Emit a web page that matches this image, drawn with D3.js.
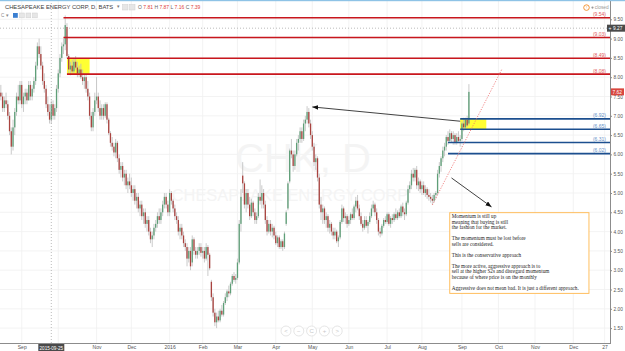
<!DOCTYPE html>
<html>
<head>
<meta charset="utf-8">
<script src="https://cdn.jsdelivr.net/npm/d3@7"></script>
<style>
  body { margin: 0; background: #fff; }
  svg { display: block; font-family: "Liberation Sans", Arial, sans-serif; }
</style>
</head>
<body>
<svg width="625" height="351"></svg>
<script>
// ---- trading calendar (weekdays, minus exchange holidays that fall in the data) ----
const firstDay = '2015-08-13';
const lastDay = '2016-12-30';
const holidays = ['2015-09-07','2015-11-26','2015-12-25','2016-01-01','2016-01-18',
                  '2016-02-15','2016-03-25','2016-05-30','2016-07-04','2016-09-05'];

// ---- daily candles [open, high, low, close], one array per month ----
const aug15 = [[7.5,7.7,7.3,7.6],[7.6,7.8,7.4,7.5],[7.5,7.6,7.1,7.2],[7.2,7.5,7.1,7.4],[7.4,7.6,7.2,7.3],
  [7.3,7.4,6.9,7.0],[7.0,7.1,6.5,6.6],[6.6,6.7,6.0,6.2],[6.2,6.9,6.1,6.7],[6.7,7.2,6.5,7.1],
  [7.1,7.6,7.0,7.5],[7.5,7.8,7.3,7.4],[7.4,7.9,7.3,7.8]];
const sep15 = [[7.8,7.9,7.2,7.3],[7.3,7.6,7.1,7.5],[7.5,7.7,7.3,7.6],[7.6,7.7,7.3,7.4],[7.4,7.9,7.4,7.8],
  [7.8,7.9,7.4,7.5],[7.5,7.8,7.4,7.7],[7.7,8.0,7.6,7.9],[7.9,8.4,7.8,8.3],[8.3,8.9,8.2,8.8],
  [8.8,9.0,8.5,8.6],[8.6,8.8,8.2,8.3],[8.3,8.4,7.8,7.9],[7.9,8.1,7.6,7.7],[7.7,7.8,7.2,7.3],
  [7.3,7.5,7.0,7.1],[7.1,7.3,6.8,6.9],[6.9,7.4,6.8,7.3],[7.3,7.4,6.9,7.0],[7.0,7.3,6.9,7.2],
  [7.2,7.8,7.1,7.7]];
const oct15 = [[7.7,8.2,7.6,8.1],[8.1,8.6,8.0,8.5],[8.5,8.9,8.4,8.8],[8.8,9.0,8.6,8.85],[8.85,9.6,8.7,9.35],
  [9.3,9.4,8.5,8.55],[8.55,8.6,8.1,8.2],[8.2,8.4,8.05,8.3],[8.3,8.45,8.1,8.15],[8.15,8.5,8.1,8.4],
  [8.4,8.55,8.2,8.25],[8.25,8.4,8.0,8.1],[8.1,8.3,8.0,8.2],[8.2,8.35,7.95,8.0],[8.0,8.2,7.8,7.9],
  [7.9,8.1,7.7,8.0],[8.0,8.1,7.6,7.7],[7.7,7.9,7.4,7.5],[7.5,7.6,6.9,7.0],[7.0,7.1,6.6,6.7],
  [6.7,7.2,6.6,7.1],[7.1,7.6,7.0,7.4]];
const nov15 = [[7.4,8.0,7.3,7.5],[7.5,7.6,7.1,7.2],[7.2,7.4,6.9,7.0],[7.0,7.3,6.9,7.2],[7.2,7.3,6.9,7.0],
  [7.0,7.35,6.95,7.3],[7.3,7.35,6.8,6.9],[6.9,6.95,6.5,6.55],[6.55,6.6,6.2,6.3],[6.3,6.45,6.1,6.2],
  [6.2,6.3,5.95,6.05],[6.05,6.4,5.9,6.3],[6.3,6.35,5.8,5.9],[5.9,6.0,5.5,5.6],[5.6,5.8,5.4,5.7],
  [5.7,5.8,5.3,5.4],[5.4,5.6,5.2,5.5],[5.5,5.6,5.1,5.2],[5.2,5.4,5.0,5.3],[5.3,5.5,5.1,5.2]];
const dec15 = [[5.2,5.4,4.9,5.0],[5.0,5.2,4.8,5.1],[5.1,5.2,4.7,4.8],[4.8,5.0,4.6,4.9],[4.9,5.0,4.5,4.6],
  [4.6,4.8,4.4,4.7],[4.7,4.8,4.3,4.4],[4.4,4.6,4.2,4.5],[4.5,4.6,4.1,4.2],[4.2,4.4,4.0,4.3],
  [4.3,4.4,3.9,4.0],[4.0,4.1,3.7,3.8],[3.8,4.0,3.6,3.9],[3.9,4.2,3.8,4.1],[4.1,4.3,4.0,4.2],
  [4.2,4.5,4.1,4.4],[4.4,4.6,4.2,4.3],[4.3,4.6,4.2,4.5],[4.5,4.8,4.4,4.7],[4.7,5.0,4.6,4.9],
  [4.9,5.0,4.6,4.7],[4.7,4.8,4.4,4.5]];
const jan16 = [[4.5,5.1,4.4,5.0],[5.0,5.05,4.7,4.8],[4.8,4.85,4.5,4.6],[4.6,4.7,4.3,4.4],[4.4,4.5,4.2,4.3],
  [4.3,4.4,3.9,4.0],[4.0,4.2,3.8,4.1],[4.1,4.2,3.8,3.9],[3.9,4.0,3.6,3.7],[3.7,3.8,3.5,3.6],
  [3.6,3.7,3.1,3.3],[3.3,3.6,3.2,3.5],[3.5,3.6,3.0,3.1],[3.2,3.9,3.1,3.8],[3.8,3.85,3.4,3.5],
  [3.5,3.6,3.3,3.4],[3.4,3.6,3.3,3.5],[3.5,3.7,3.4,3.6],[3.6,3.7,3.35,3.45]];
const feb16 = [[3.45,3.6,3.3,3.5],[3.5,3.6,3.2,3.3],[3.3,3.7,3.25,3.6],[3.6,3.65,2.85,3.4],[3.4,3.45,3.0,3.05],
  [2.7,2.75,2.2,2.3],[2.3,2.4,1.8,1.9],[1.9,2.0,1.55,1.65],[1.65,1.9,1.5,1.8],[1.8,1.95,1.65,1.7],
  [1.7,2.0,1.65,1.95],[1.95,2.1,1.8,1.85],[1.85,2.2,1.8,2.15],[2.15,2.4,2.1,2.3],[2.3,2.5,2.2,2.45],
  [2.45,2.6,2.3,2.4],[2.4,2.7,2.35,2.65],[2.65,2.9,2.6,2.85],[2.85,2.95,2.7,2.75],[2.75,2.9,2.65,2.8]];
const mar16 = [[2.8,3.3,2.75,3.2],[3.2,4.3,3.15,4.2],[4.2,5.1,4.0,4.9],[5.45,5.8,5.0,5.25],[5.25,5.3,4.6,4.7],
  [4.7,5.1,4.5,5.0],[5.0,5.1,4.6,4.7],[4.7,4.9,4.3,4.4],[4.4,4.85,4.35,4.75],[4.75,4.8,4.4,4.5],
  [4.5,4.6,4.2,4.3],[4.3,4.5,4.2,4.4],[4.4,5.0,4.35,4.9],[4.9,5.35,4.7,4.8],[4.8,5.2,4.6,5.0],
  [5.0,5.1,4.6,4.7],[4.7,4.8,4.2,4.3],[4.3,4.4,3.9,4.0],[4.0,4.3,3.95,4.2],[4.2,4.3,3.9,4.0],
  [4.0,4.2,3.85,4.1],[4.1,4.15,3.8,3.9]];
const apr16 = [[3.9,4.0,3.65,3.7],[3.7,3.9,3.6,3.85],[3.85,3.9,3.55,3.6],[3.6,3.8,3.55,3.75],[3.75,3.8,3.5,3.6],
  [3.6,4.0,3.55,3.95],[4.2,4.55,4.15,4.5],[4.6,5.3,4.55,5.25],[5.3,6.15,5.25,6.1],[6.1,6.4,5.9,6.0],
  [6.0,6.1,5.55,5.7],[5.7,6.1,5.6,6.0],[6.0,6.4,5.95,6.3],[6.3,6.5,6.1,6.4],[6.4,6.7,6.3,6.6],
  [6.6,6.7,6.3,6.4],[6.4,6.9,6.35,6.8],[6.8,7.0,6.6,6.9],[6.9,7.25,6.8,7.1],[7.1,7.2,6.7,6.8],
  [6.8,6.9,6.4,6.5]];
const may16 = [[6.5,6.6,6.1,6.2],[6.2,6.3,5.7,5.8],[5.8,6.0,5.6,5.9],[5.9,5.95,5.3,5.4],[5.4,5.5,4.6,4.7],
  [4.7,4.9,4.3,4.5],[4.5,4.7,4.2,4.6],[4.6,4.65,4.2,4.3],[4.3,4.5,4.1,4.4],[4.4,4.45,4.0,4.1],
  [4.1,4.3,3.95,4.2],[4.2,4.25,3.9,4.0],[4.0,4.1,3.8,3.9],[3.9,4.1,3.8,4.0],[4.0,4.05,3.7,3.75],
  [3.75,3.9,3.6,3.85],[3.85,4.3,3.8,4.25],[4.25,4.7,4.2,4.6],[4.6,4.65,4.25,4.35],[4.35,4.5,4.2,4.4],
  [4.4,4.45,4.1,4.2]];
const jun16 = [[4.2,4.4,4.15,4.3],[4.3,4.5,4.2,4.45],[4.45,4.6,4.3,4.35],[4.35,4.7,4.3,4.65],[4.65,4.9,4.5,4.8],
  [4.8,4.95,4.55,4.6],[4.6,4.7,4.3,4.4],[4.4,4.5,4.15,4.2],[4.2,4.3,4.0,4.1],[4.1,4.4,4.05,4.3],
  [4.3,4.4,4.1,4.15],[4.15,4.3,3.95,4.25],[4.25,4.5,4.2,4.4],[4.4,4.7,4.35,4.6],[4.6,4.8,4.5,4.7],
  [4.7,4.75,4.4,4.5],[4.5,4.6,4.2,4.3],[4.3,4.35,3.9,4.0],[4.0,4.1,3.85,3.95],[3.95,4.2,3.9,4.15],
  [4.15,4.35,4.1,4.3],[4.3,4.4,4.2,4.25]];
const jul16 = [[4.25,4.5,4.2,4.45],[4.45,4.5,4.15,4.2],[4.2,4.4,4.1,4.35],[4.35,4.45,4.2,4.3],[4.3,4.5,4.25,4.45],
  [4.45,4.6,4.3,4.35],[4.35,4.55,4.3,4.5],[4.5,4.6,4.35,4.4],[4.4,4.7,4.35,4.65],[4.65,4.75,4.4,4.5],
  [4.5,4.6,4.3,4.45],[4.45,4.8,4.4,4.75],[4.75,5.2,4.7,5.1],[5.1,5.3,5.0,5.2],[5.2,5.6,5.1,5.5],
  [5.5,5.65,5.3,5.4],[5.4,5.65,5.3,5.6],[5.6,5.7,5.1,5.2],[5.2,5.4,5.05,5.3],[5.3,5.35,5.0,5.1]];
const aug16 = [[5.1,5.3,4.95,5.2],[5.2,5.3,4.95,5.0],[5.0,5.2,4.9,5.1],[5.1,5.15,4.85,4.95],[4.95,5.1,4.8,4.9],
  [4.9,5.0,4.75,4.85],[4.85,4.95,4.7,4.8],[4.8,5.0,4.75,4.95],[4.95,5.05,4.85,5.0],[5.0,5.6,4.95,5.5],
  [5.5,5.8,5.4,5.7],[5.7,5.95,5.55,5.9],[5.9,6.2,5.8,6.1],[6.1,6.3,5.95,6.2],[6.2,6.5,6.1,6.45],
  [6.45,6.6,6.25,6.35],[6.35,6.65,6.3,6.55],[6.55,6.6,6.3,6.4],[6.4,6.6,6.25,6.5],[6.5,6.55,6.25,6.3],
  [6.3,6.55,6.25,6.45],[6.45,6.6,6.3,6.35],[6.35,6.5,6.2,6.4]];
const sep16 = [[6.4,6.85,6.35,6.8],[6.8,6.95,6.6,6.7],[6.7,6.95,6.65,6.9],[6.9,7.0,6.7,6.75],[6.8,7.82,6.75,7.62]];

// ---- axes ----
const priceTicks = [1.5,2,2.5,3,3.5,4,4.5,5,5.5,6,6.5,7,7.5,8,8.5,9,9.5];
const tickDates = ['2015-09-01','2015-10-01','2015-11-02','2015-12-01','2016-01-04','2016-02-01','2016-03-01',
  '2016-04-01','2016-05-02','2016-06-01','2016-07-01','2016-08-01','2016-09-01','2016-10-03','2016-11-01',
  '2016-12-01','2016-12-27'];
// the October 2015 label sits under the crosshair date tag, so it is left blank
const tickLabels = ['Sep','','Nov','Dec','2016','Feb','Mar','Apr','May','Jun','Jul','Aug','Sep','Oct','Nov','Dec','27'];

// ---- drawings ----
const redLevels = [9.54, 9.03, 8.49, 8.08];
const redStarts = ['2015-10-06','2015-10-06','2015-10-08','2015-10-08'];
const blueLevels = [6.92, 6.65, 6.31, 6.02];
const blueStarts = ['2016-08-31','2016-08-31','2016-08-22','2016-08-22'];
const zones = [['2015-10-08','2015-10-27',8.08,8.49],['2016-08-31','2016-09-22',6.65,6.92]];
const arrows = [[['2016-08-31',6.86],['2016-05-02',7.23]],[['2016-08-24',5.39],['2016-09-27',4.64]]];
const trend = [['2016-08-09',4.69],['2016-10-05',8.21]];
const noteBox = [['2016-08-23',4.49],['2016-12-14',2.40]];
const noteLines = ['Momentum is still up','meaning that buying is still','the fashion for the market.','',
  'The momentum must be lost before','sells are considered.','','This is the conservative approach','',
  'The more active, aggressive approach is to','sell at the higher S2s and disregard momentum',
  'because of where price is on the monthly','','Aggressive does not mean bad. It is just a different approach.'];
const crossDate = '2015-09-25', crossPrice = 9.27, lastPrice = 7.62;

const svg = d3.select('svg');
const plotRight = 610, plotBottom = 343;

const fmt = d3.timeFormat('%Y-%m-%d');
const parse = d3.timeParse('%Y-%m-%d');
const days = d3.timeDay.range(parse(firstDay), d3.timeDay.offset(parse(lastDay), 1))
  .filter(d => d.getDay() % 6 !== 0 && !holidays.includes(fmt(d)))
  .map(fmt);
const idx = s => days.indexOf(s);

const bars = [].concat(aug15, sep15, oct15, nov15, dec15, jan16, feb16, mar16, apr16, may16, jun16, jul16, aug16, sep16)
  .map((d, i) => ({ i: i, o: d[0], h: d[1], l: d[2], c: d[3] }));

const x = d3.scaleLinear().domain([0, 350]).range([-0.9, 608.1]);
const y = d3.scaleLinear().domain([1.5, 9.5]).range([328.1, 19.3]);

svg.append('rect').attr('width', 625).attr('height', 351).attr('fill', '#fff');

const plot = svg.append('g');
plot.append('clipPath').attr('id', 'clip').append('rect')
  .attr('width', plotRight).attr('height', plotBottom);
const pane = plot.append('g').attr('clip-path', 'url(#clip)');

// grid
pane.selectAll('.vgrid').data(tickDates).join('line')
  .attr('x1', d => x(idx(d))).attr('x2', d => x(idx(d)))
  .attr('y1', 0).attr('y2', plotBottom)
  .attr('stroke', '#f0f0f0').attr('stroke-width', 0.8);
pane.selectAll('.hgrid').data(priceTicks).join('line')
  .attr('x1', 0).attr('x2', plotRight)
  .attr('y1', d => y(d)).attr('y2', d => y(d))
  .attr('stroke', '#f0f0f0').attr('stroke-width', 0.8);

// watermark
pane.append('text').attr('x', 303).attr('y', 172).attr('text-anchor', 'middle')
  .attr('font-size', 40).attr('fill', '#f4f4f4').text('CHK, D');
pane.append('text').attr('x', 290).attr('y', 201).attr('text-anchor', 'middle')
  .attr('font-size', 16.4).attr('fill', '#f4f4f4').text('CHESAPEAKE ENERGY CORP');

// highlight zones
pane.selectAll('.zone').data(zones).join('rect')
  .attr('x', d => x(idx(d[0]))).attr('width', d => x(idx(d[1])) - x(idx(d[0])))
  .attr('y', d => y(d[3])).attr('height', d => y(d[2]) - y(d[3]))
  .attr('fill', '#ffff33');

// candles
const up = '#5f9f78', down = '#a9433f';
pane.selectAll('.wick').data(bars).join('line')
  .attr('x1', d => x(d.i)).attr('x2', d => x(d.i))
  .attr('y1', d => y(d.h)).attr('y2', d => y(d.l))
  .attr('stroke', '#bdbdbd').attr('stroke-width', 0.8);
pane.selectAll('.body').data(bars).join('rect')
  .attr('x', d => x(d.i) - 0.65).attr('width', 1.3)
  .attr('y', d => y(Math.max(d.o, d.c)))
  .attr('height', d => Math.max(0.8, Math.abs(y(d.o) - y(d.c))))
  .attr('fill', d => d.c >= d.o ? up : down);

// crosshair
pane.append('line').attr('x1', x(idx(crossDate))).attr('x2', x(idx(crossDate)))
  .attr('y1', 0).attr('y2', plotBottom)
  .attr('stroke', '#9e9e9e').attr('stroke-width', 0.7).attr('stroke-dasharray', '1,2');
pane.append('line').attr('x1', 0).attr('x2', plotRight)
  .attr('y1', y(crossPrice)).attr('y2', y(crossPrice))
  .attr('stroke', '#9e9e9e').attr('stroke-width', 0.7).attr('stroke-dasharray', '1,2');

// horizontal levels
function levels(vals, starts, color, labelColor) {
  const g = pane.append('g');
  g.selectAll('line').data(vals).join('line')
    .attr('x1', (d, i) => x(idx(starts[i]))).attr('x2', plotRight)
    .attr('y1', d => y(d)).attr('y2', d => y(d))
    .attr('stroke', color).attr('stroke-width', 1.6);
  g.selectAll('text').data(vals).join('text')
    .attr('x', 606).attr('y', d => y(d) - 1.6)
    .attr('text-anchor', 'end').attr('font-size', 5).attr('fill', labelColor)
    .text(d => '(' + d.toFixed(2) + ')');
}
levels(redLevels, redStarts, '#c8161d', '#e25c5c');
levels(blueLevels, blueStarts, '#1c4f8f', '#6a92c8');

// trend line
pane.append('line')
  .attr('x1', x(idx(trend[0][0]))).attr('y1', y(trend[0][1]))
  .attr('x2', x(idx(trend[1][0]))).attr('y2', y(trend[1][1]))
  .attr('stroke', '#ee6b6b').attr('stroke-width', 0.8).attr('stroke-dasharray', '1.2,1.4');

// arrows
svg.append('defs').append('marker').attr('id', 'head')
  .attr('viewBox', '0 0 10 8').attr('refX', 10).attr('refY', 4)
  .attr('markerWidth', 6).attr('markerHeight', 5).attr('markerUnits', 'userSpaceOnUse')
  .attr('orient', 'auto')
  .append('path').attr('d', 'M0,0 L10,4 L0,8 z').attr('fill', '#111');
pane.selectAll('.arrow').data(arrows).join('line')
  .attr('x1', d => x(idx(d[0][0]))).attr('y1', d => y(d[0][1]))
  .attr('x2', d => x(idx(d[1][0]))).attr('y2', d => y(d[1][1]))
  .attr('stroke', '#111').attr('stroke-width', 0.8).attr('marker-end', 'url(#head)');

// note box
const bx0 = x(idx(noteBox[0][0])), by0 = y(noteBox[0][1]);
const bx1 = x(idx(noteBox[1][0])), by1 = y(noteBox[1][1]);
pane.append('rect').attr('x', bx0).attr('y', by0)
  .attr('width', bx1 - bx0).attr('height', by1 - by0)
  .attr('fill', '#fff').attr('stroke', '#ffb74d').attr('stroke-width', 0.9);
pane.append('g').selectAll('text').data(noteLines).join('text')
  .attr('x', bx0 + 2).attr('y', (d, i) => by0 + 5.3 + i * 5.55)
  .attr('font-family', '"Liberation Serif", "Times New Roman", serif')
  .attr('font-size', 5.2).attr('fill', '#222')
  .text(d => d);

// bottom navigation buttons
const navGlyphs = ['<', '\u2212', 'C', '+', '>'];
const nav = pane.append('g');
navGlyphs.forEach((t, i) => {
  const cx = 286 + i * 12.8;
  nav.append('circle').attr('cx', cx).attr('cy', 331).attr('r', 5)
    .attr('fill', '#fff').attr('stroke', '#dedede').attr('stroke-width', 0.8);
  nav.append('text').attr('x', cx).attr('y', 333).attr('text-anchor', 'middle')
    .attr('font-size', 6).attr('fill', '#c8c8c8').text(t);
});

// price axis
const yAxis = svg.append('g').attr('transform', `translate(${plotRight},0)`)
  .call(d3.axisRight(y).tickValues(priceTicks).tickFormat(d3.format('.2f')).tickSize(2).tickPadding(1.5));
yAxis.select('.domain').remove();
yAxis.selectAll('line').attr('stroke', '#8c8c8c');
yAxis.selectAll('text').attr('font-size', 4.8).attr('fill', '#555').attr('font-family', '"Liberation Sans", Arial, sans-serif');
svg.append('line').attr('x1', plotRight + 0.5).attr('x2', plotRight + 0.5).attr('y1', 0).attr('y2', plotBottom)
  .attr('stroke', '#8c8c8c').attr('stroke-width', 1);

// time axis
const xAxis = svg.append('g').attr('transform', `translate(0,${plotBottom})`)
  .call(d3.axisBottom(x).tickValues(tickDates.map(idx)).tickFormat((d, i) => tickLabels[i]).tickSize(0).tickPadding(2));
xAxis.select('.domain').remove();
xAxis.selectAll('text').attr('font-size', 5).attr('fill', '#555').attr('font-family', '"Liberation Sans", Arial, sans-serif');
svg.append('line').attr('x1', 0).attr('x2', plotRight + 1).attr('y1', plotBottom + 0.5).attr('y2', plotBottom + 0.5)
  .attr('stroke', '#8c8c8c').attr('stroke-width', 1);

// crosshair labels
const cx0 = x(idx(crossDate));
svg.append('rect').attr('x', cx0 - 13).attr('y', plotBottom + 1).attr('width', 26).attr('height', 7).attr('fill', '#4a4a4a');
svg.append('text').attr('x', cx0).attr('y', plotBottom + 6.6).attr('text-anchor', 'middle')
  .attr('font-size', 4.6).attr('fill', '#fff').text(crossDate);
svg.append('rect').attr('x', 607).attr('y', y(crossPrice) - 3.5).attr('width', 18).attr('height', 7).attr('fill', '#4a4a4a');
svg.append('text').attr('x', 608.5).attr('y', y(crossPrice) + 1.8).attr('font-size', 5).attr('fill', '#fff').text('+');
svg.append('text').attr('x', 613).attr('y', y(crossPrice) + 1.7).attr('font-size', 4.8).attr('fill', '#fff').text(crossPrice.toFixed(2));

// last price label
svg.append('rect').attr('x', 611).attr('y', y(lastPrice) - 3.5).attr('width', 13).attr('height', 7).attr('fill', '#d9473f');
svg.append('text').attr('x', 612.5).attr('y', y(lastPrice) + 1.7).attr('font-size', 4.8).attr('fill', '#fff').text(lastPrice.toFixed(2));

// top border
svg.append('rect').attr('x', 0).attr('y', 0).attr('width', 625).attr('height', 1.2).attr('fill', '#8ec3e6');

// header
svg.append('text').attr('x', 5).attr('y', 8.6).attr('font-size', 5.8).attr('fill', '#3d3d3d')
  .text('CHESAPEAKE ENERGY CORP, D, BATS');
svg.append('text').attr('x', 116.5).attr('y', 8.4).attr('font-size', 4.5).attr('fill', '#777').text('\u25BE');
[122.5, 129.5].forEach(bx => svg.append('rect').attr('x', bx).attr('y', 4.5).attr('width', 5.5).attr('height', 5.5)
  .attr('fill', '#e6e6e6').attr('stroke', '#cfcfcf').attr('stroke-width', 0.5));
const ohlcLabel = [['O', '7.81'], ['H', '7.87'], ['L', '7.16'], ['C', '7.39']];
const hdr = svg.append('text').attr('x', 138).attr('y', 8.6).attr('font-size', 5);
ohlcLabel.forEach(([k, v]) => {
  hdr.append('tspan').attr('fill', '#666').text(k + ' ');
  hdr.append('tspan').attr('fill', '#e0433c').text(v + ' ');
});
svg.append('text').attr('x', 1).attr('y', 17.4).attr('font-size', 4.6).attr('fill', '#888').text('C \u25BE');
svg.append('rect').attr('x', 13).attr('y', 13).attr('width', 4.8).attr('height', 4.8).attr('fill', '#3b7fd1');
[19.5, 26, 32.5].forEach(bx => svg.append('rect').attr('x', bx).attr('y', 13).attr('width', 4.8).attr('height', 4.8)
  .attr('fill', '#e6e6e6').attr('stroke', '#cfcfcf').attr('stroke-width', 0.5));

// market status
svg.append('circle').attr('cx', 586.5).attr('cy', 7.6).attr('r', 2.8)
  .attr('fill', '#fff').attr('stroke', '#f08a24').attr('stroke-width', 0.9);
svg.append('text').attr('x', 586.5).attr('y', 9.3).attr('text-anchor', 'middle')
  .attr('font-size', 4.2).attr('fill', '#f08a24').text('!');
svg.append('circle').attr('cx', 592.5).attr('cy', 7.6).attr('r', 1.1).attr('fill', '#999');
svg.append('text').attr('x', 594.8).attr('y', 9.4).attr('font-size', 4.8).attr('fill', '#9a9a9a').text('closed');
</script>
</body>
</html>
